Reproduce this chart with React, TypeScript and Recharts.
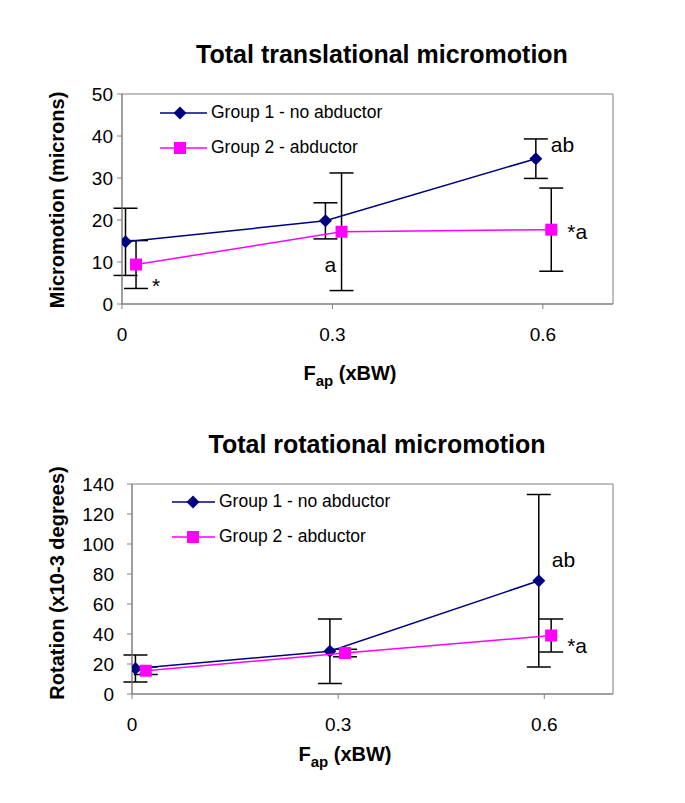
import React from 'react';
import { ScatterChart, Scatter, XAxis, YAxis, ErrorBar, Legend, ReferenceArea } from 'recharts';

const FONT = '"Liberation Sans", Arial, Helvetica, sans-serif';
const NAVY = '#000080';
const MAGENTA = '#FF00FF';
const FRAME = '#808080';

// x axis (F_ap, xBW)
const fapTicks = [0, 0.3, 0.6];
const fapDomain: [number, number] = [0, 0.7];
const seriesNames = ['Group 1 - no abductor', 'Group 2 - abductor'];

// Total translational micromotion (microns)
const transTicks = [0, 10, 20, 30, 40, 50];
const transG1X = [0.005, 0.29, 0.59];
const transG1Y = [14.8, 19.8, 34.6];
const transG1Err = [8, 4.3, 4.7];
const transG1Notes = ['', '', 'ab'];
const transG2X = [0.02, 0.313, 0.612];
const transG2Y = [9.4, 17.2, 17.7];
const transG2Err = [5.7, 14, 9.9];
const transG2Notes = ['*', 'a', '*a'];

// Total rotational micromotion (x10-3 degrees)
const rotTicks = [0, 20, 40, 60, 80, 100, 120, 140];
const rotG1X = [0.005, 0.288, 0.592];
const rotG1Y = [17, 28.5, 75.5];
const rotG1Err = [9, 21.5, 57.5];
const rotG1Notes = ['', '', 'ab'];
const rotG2X = [0.02, 0.31, 0.61];
const rotG2Y = [15.5, 27.3, 39];
const rotG2Err = [2.5, 2.5, 11];
const rotG2Notes = ['', '', '*a'];

type Pt = { x: number; y: number; err: number; note: string };
const build = (xs: number[], ys: number[], errs: number[], notes: string[]): Pt[] =>
  xs.map((x, i) => ({ x, y: ys[i], err: errs[i], note: notes[i] }));

const transG1 = build(transG1X, transG1Y, transG1Err, transG1Notes);
const transG2 = build(transG2X, transG2Y, transG2Err, transG2Notes);
const rotG1 = build(rotG1X, rotG1Y, rotG1Err, rotG1Notes);
const rotG2 = build(rotG2X, rotG2Y, rotG2Err, rotG2Notes);

const Diamond = ({ cx, cy, fill }: any) => {
  const r = 6.5;
  return (
    <polygon
      points={`${cx},${cy - r} ${cx + r},${cy} ${cx},${cy + r} ${cx - r},${cy}`}
      fill={fill}
    />
  );
};
const Square = ({ cx, cy, fill }: any) => (
  <rect x={cx - 6} y={cy - 6} width={12} height={12} fill={fill} />
);

const makeShape =
  (kind: 'diamond' | 'square', color: string, offsets: Record<string, [number, number]>) =>
  (props: any) => {
    const { cx, cy, payload } = props;
    const note: string = payload?.note || '';
    const off = note ? offsets[note] : undefined;
    return (
      <g>
        {kind === 'diamond' ? <Diamond cx={cx} cy={cy} fill={color} /> : <Square cx={cx} cy={cy} fill={color} />}
        {note && off ? (
          <text x={cx + off[0]} y={cy + off[1]} fontSize={21} fontFamily={FONT} fill="#000">
            {note}
          </text>
        ) : null}
      </g>
    );
  };

const LegendBox = ({ lineW, markerX }: { lineW: number; markerX: number }) => (
  <div style={{ fontFamily: FONT, fontSize: 17.5, color: '#000' }}>
    {seriesNames.map((name, i) => (
      <div key={name} style={{ display: 'flex', alignItems: 'center', height: 35 }}>
        <svg width={lineW} height={14} style={{ display: 'block' }}>
          <line x1={0} y1={7} x2={lineW} y2={7} stroke={i === 0 ? NAVY : MAGENTA} strokeWidth={1.5} />
          {i === 0 ? <Diamond cx={markerX} cy={7} fill={NAVY} /> : <Square cx={markerX} cy={7} fill={MAGENTA} />}
        </svg>
        <span style={{ marginLeft: 4, whiteSpace: 'nowrap' }}>{name}</span>
      </div>
    ))}
  </div>
);

type PanelProps = {
  top: number;
  title: string;
  titleX: number;
  yLabel: string;
  yLabelCY: number;
  yDomain: [number, number];
  yTicks: number[];
  yAxisWidth: number;
  yTickMargin: number;
  xLabelX: number;
  xLabelY: number;
  g1: Pt[];
  g2: Pt[];
  g1Off: Record<string, [number, number]>;
  g2Off: Record<string, [number, number]>;
  legendLeft: number;
  legendTop: number;
  legendLineW: number;
  legendMarkerX: number;
};

const Panel = (p: PanelProps) => {
  const tickStyle = { fill: '#000', fontSize: 19, fontFamily: FONT };
  return (
    <div style={{ position: 'absolute', left: 0, top: p.top, width: 685, height: 400 }}>
      <ScatterChart width={685} height={400} margin={{ top: 94, right: 72, bottom: 0, left: 0 }}>
        <XAxis
          xAxisId="b"
          type="number"
          dataKey="x"
          domain={fapDomain}
          ticks={fapTicks}
          interval={0}
          allowDataOverflow
          height={96}
          tickSize={5}
          tickMargin={19}
          stroke={FRAME}
          tick={tickStyle}
          tickFormatter={(v: number) => String(v)}
          label={{
            content: () => (
              <g>
                <text x={p.titleX} y={63} textAnchor="middle" fontFamily={FONT} fontWeight="bold" fontSize={25} fill="#000">
                  {p.title}
                </text>
                <text x={p.xLabelX} y={p.xLabelY} textAnchor="middle" fontFamily={FONT} fontWeight="bold" fontSize={20} fill="#000">
                  <tspan>F</tspan>
                  <tspan fontSize={15} dy={6}>ap</tspan>
                  <tspan dy={-6}> (xBW)</tspan>
                </text>
              </g>
            ),
          }}
        />
        <YAxis
          yAxisId="l"
          type="number"
          dataKey="y"
          domain={p.yDomain}
          ticks={p.yTicks}
          interval={0}
          allowDataOverflow
          width={p.yAxisWidth}
          tickSize={5}
          tickMargin={p.yTickMargin}
          stroke={FRAME}
          tick={tickStyle}
          label={{
            content: () => (
              <text
                x={64}
                y={p.yLabelCY}
                transform={`rotate(-90, 64, ${p.yLabelCY})`}
                textAnchor="middle"
                fontFamily={FONT}
                fontWeight="bold"
                fontSize={20}
                fill="#000"
              >
                {p.yLabel}
              </text>
            ),
          }}
        />
        <ReferenceArea
          xAxisId="b"
          yAxisId="l"
          x1={fapDomain[0]}
          x2={fapDomain[1]}
          y1={p.yDomain[0]}
          y2={p.yDomain[1]}
          fill="none"
          fillOpacity={0}
          stroke={FRAME}
          strokeWidth={1}
          ifOverflow="visible"
        />
        <Legend
          layout="horizontal"
          verticalAlign="middle"
          align="center"
          content={() => <LegendBox lineW={p.legendLineW} markerX={p.legendMarkerX} />}
          wrapperStyle={{ position: 'absolute', left: p.legendLeft, top: p.legendTop, width: 'auto', margin: 0 }}
        />
        <Scatter
          name={seriesNames[0]}
          xAxisId="b"
          yAxisId="l"
          data={p.g1}
          fill={NAVY}
          line={{ stroke: NAVY, strokeWidth: 1.5 }}
          shape={makeShape('diamond', NAVY, p.g1Off)}
          isAnimationActive={false}
        >
          <ErrorBar dataKey="err" direction="y" width={12} stroke="#000" strokeWidth={1.5} isAnimationActive={false} />
        </Scatter>
        <Scatter
          name={seriesNames[1]}
          xAxisId="b"
          yAxisId="l"
          data={p.g2}
          fill={MAGENTA}
          line={{ stroke: MAGENTA, strokeWidth: 1.5 }}
          shape={makeShape('square', MAGENTA, p.g2Off)}
          isAnimationActive={false}
        >
          <ErrorBar dataKey="err" direction="y" width={12} stroke="#000" strokeWidth={1.5} isAnimationActive={false} />
        </Scatter>
      </ScatterChart>
    </div>
  );
};

export default function App() {
  return (
    <div style={{ position: 'relative', width: 685, height: 803 }}>
      <div style={{ position: 'absolute', left: -8, top: -8, width: 685, height: 803, background: '#fff' }}>
        <Panel
          top={0}
          title="Total translational micromotion"
          titleX={382}
          yLabel="Micromotion (microns)"
          yLabelCY={200}
          yDomain={[0, 50]}
          yTicks={transTicks}
          yAxisWidth={122}
          yTickMargin={4}
          xLabelX={350}
          xLabelY={380}
          g1={transG1}
          g2={transG2}
          g1Off={{ ab: [15, -7] }}
          g2Off={{ '*': [16, 28], a: [-17, 40], '*a': [16, 9] }}
          legendLeft={160}
          legendTop={95}
          legendLineW={47}
          legendMarkerX={20}
        />
        <Panel
          top={390}
          title="Total rotational micromotion"
          titleX={377}
          yLabel="Rotation (x10-3 degrees)"
          yLabelCY={193}
          yDomain={[0, 140]}
          yTicks={rotTicks}
          yAxisWidth={132}
          yTickMargin={13}
          xLabelX={345}
          xLabelY={371}
          g1={rotG1}
          g2={rotG2}
          g1Off={{ ab: [13, -14] }}
          g2Off={{ '*a': [16, 17] }}
          legendLeft={172}
          legendTop={94}
          legendLineW={43}
          legendMarkerX={21}
        />
      </div>
    </div>
  );
}
